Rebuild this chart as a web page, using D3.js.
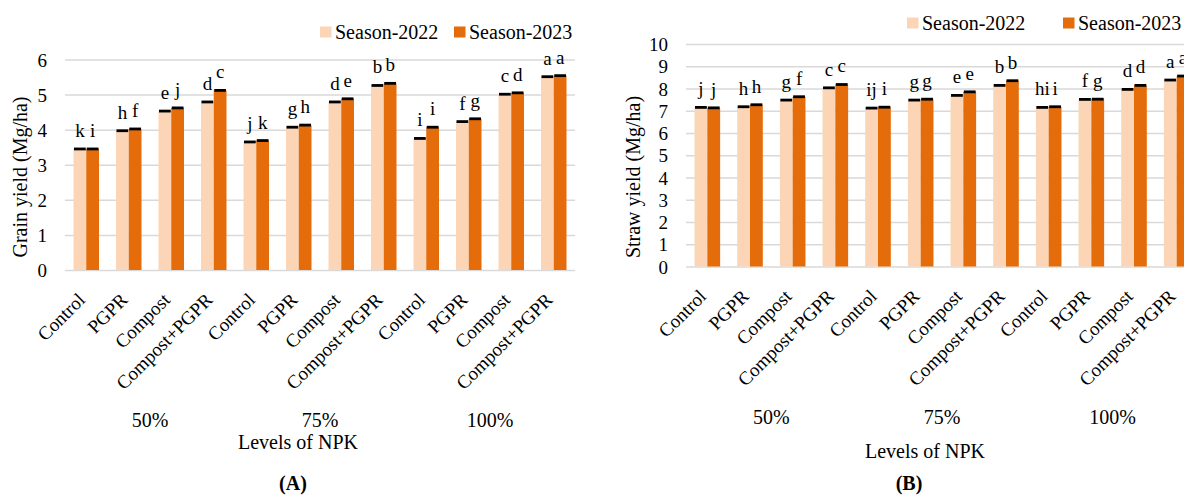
<!DOCTYPE html>
<html>
<head>
<meta charset="utf-8">
<script src="https://cdn.jsdelivr.net/npm/d3@7"></script>
<style>
  html, body { margin: 0; padding: 0; background: #fff; }
  svg { display: block; }
</style>
</head>
<body>
<svg id="chart" width="1184" height="495"></svg>
<script>
// Treatments repeated within each NPK level
const treatments = ["Control", "PGPR", "Compost", "Compost+PGPR"];
const npkLevels = ["50%", "75%", "100%"];
const seasons = ["Season-2022", "Season-2023"];
const seasonColors = ["#FBD5B5", "#E46C0A"];

// Grain yield (Mg/ha)
const grain2022 = [3.45, 3.97, 4.53, 4.79, 3.65, 4.07, 4.79, 5.26, 3.75, 4.23, 5.01, 5.51];
const grain2023 = [3.45, 4.02, 4.62, 5.12, 3.69, 4.13, 4.88, 5.32, 4.07, 4.31, 5.05, 5.54];
const grainLetters2022 = ["k", "h", "e", "d", "j", "g", "d", "b", "i", "f", "c", "a"];
const grainLetters2023 = ["i", "f", "j", "c", "k", "h", "e", "b", "i", "g", "d", "a"];
const grainTicks = [0, 1, 2, 3, 4, 5, 6];

// Straw yield (Mg/ha)
const straw2022 = [7.15, 7.18, 7.48, 8.03, 7.12, 7.48, 7.69, 8.14, 7.15, 7.51, 7.96, 8.38];
const straw2023 = [7.13, 7.27, 7.63, 8.18, 7.16, 7.52, 7.85, 8.35, 7.18, 7.52, 8.14, 8.56];
const strawLetters2022 = ["j", "h", "g", "c", "ij", "g", "e", "b", "hi", "f", "d", "a"];
const strawLetters2023 = ["j", "h", "f", "c", "i", "g", "e", "b", "i", "g", "d", "a"];
const strawTicks = [0, 1, 2, 3, 4, 5, 6, 7, 8, 9, 10];

const FONT = "'Liberation Serif', Tinos, 'DejaVu Serif', serif";

const svg = d3.select("#chart");

function label(sel, size) {
  return sel.attr("font-family", FONT).attr("font-size", size).attr("fill", "#000");
}

function drawPanel(cfg) {
  const g = svg.append("g");
  const n = npkLevels.length * treatments.length;
  const idx = d3.range(n);

  const x = d3.scaleBand().domain(idx).range([cfg.x0, cfg.x1])
    .paddingInner(0.4).paddingOuter(0.2);
  const xs = d3.scaleBand().domain([0, 1]).range([0, x.bandwidth()]);
  const y = d3.scaleLinear().domain([0, cfg.yMax]).range([cfg.y0, cfg.yTop]);

  // horizontal gridlines with value labels
  const yAxis = d3.axisLeft(y).tickValues(cfg.ticks).tickFormat(d3.format("d"))
    .tickSize(-(cfg.x1 - cfg.x0));
  const ya = g.append("g").attr("transform", `translate(${cfg.x0},0)`).call(yAxis);
  ya.attr("font-family", FONT).attr("font-size", 19);
  ya.select(".domain").remove();
  ya.selectAll(".tick line").attr("stroke", "#d9d9d9").attr("stroke-width", 1.5);
  ya.selectAll(".tick text")
    .attr("x", cfg.tickRight - cfg.x0)
    .attr("dy", "0.35em")
    .attr("fill", "#000");

  const series = [cfg.v2022, cfg.v2023];
  const letters = [cfg.l2022, cfg.l2023];

  series.forEach((vals, s) => {
    // bars
    g.selectAll(null).data(idx).enter().append("rect")
      .attr("x", i => x(i) + xs(s))
      .attr("y", i => y(vals[i]))
      .attr("width", xs.bandwidth())
      .attr("height", i => y(0) - y(vals[i]))
      .attr("fill", seasonColors[s]);
    // error caps
    g.selectAll(null).data(idx).enter().append("line")
      .attr("x1", i => x(i) + xs(s) + 0.5)
      .attr("x2", i => x(i) + xs(s) + xs.bandwidth() - 0.5)
      .attr("y1", i => y(vals[i]))
      .attr("y2", i => y(vals[i]))
      .attr("stroke", "#000").attr("stroke-width", 2.8);
    // significance letters
    label(g.selectAll(null).data(idx).enter().append("text"), 19)
      .attr("x", i => x(i) + xs(s) + xs.bandwidth() / 2)
      .attr("y", i => y(vals[i]) - 12)
      .attr("text-anchor", "middle")
      .text(i => letters[s][i]);
  });

  // rotated treatment labels
  label(g.selectAll(null).data(idx).enter().append("text"), 19)
    .attr("text-anchor", "end")
    .attr("transform", i => `translate(${x(i) + x.bandwidth() / 2},${cfg.y0 + 31}) rotate(-45)`)
    .text(i => treatments[i % treatments.length]);

  // NPK level labels
  npkLevels.forEach((lv, k) => {
    const first = x(k * 4), last = x(k * 4 + 3) + x.bandwidth();
    label(g.append("text"), 20)
      .attr("x", (first + last) / 2)
      .attr("y", cfg.levelY)
      .attr("text-anchor", "middle")
      .text(lv);
  });

  // axis titles
  label(g.append("text"), 20)
    .attr("x", cfg.xTitleX).attr("y", cfg.xTitleY)
    .attr("text-anchor", "middle")
    .text("Levels of NPK");
  label(g.append("text"), 20)
    .attr("transform", `translate(${cfg.yTitleX},${cfg.yTitleY}) rotate(-90)`)
    .attr("text-anchor", "middle")
    .text(cfg.yTitle);

  // panel tag
  label(g.append("text"), 20)
    .attr("x", cfg.tagX).attr("y", 490)
    .attr("text-anchor", "middle")
    .attr("font-weight", "bold")
    .text(cfg.tag);

  // legend
  const lg = g.append("g");
  seasons.forEach((name, s) => {
    const lx = cfg.legendX[s];
    lg.append("rect")
      .attr("x", lx).attr("y", cfg.legendY - 5.5)
      .attr("width", 11.5).attr("height", 11)
      .attr("fill", seasonColors[s]);
    label(lg.append("text"), 20)
      .attr("x", lx + 15).attr("y", cfg.legendY)
      .attr("dy", "0.33em")
      .text(name);
  });
}

drawPanel({
  x0: 65, x1: 575, y0: 270, yTop: 59.5, yMax: 6, ticks: grainTicks, tickRight: 47,
  v2022: grain2022, v2023: grain2023, l2022: grainLetters2022, l2023: grainLetters2023,
  levelY: 427, xTitleX: 298, xTitleY: 449, yTitleX: 27, yTitleY: 177,
  yTitle: "Grain yield (Mg/ha)", tag: "(A)", tagX: 293,
  legendX: [320, 454], legendY: 32
});

drawPanel({
  x0: 686, x1: 1198, y0: 266.5, yTop: 44, yMax: 10, ticks: strawTicks, tickRight: 668,
  v2022: straw2022, v2023: straw2023, l2022: strawLetters2022, l2023: strawLetters2023,
  levelY: 424, xTitleX: 925, xTitleY: 458, yTitleX: 640, yTitleY: 177,
  yTitle: "Straw yield (Mg/ha)", tag: "(B)", tagX: 909,
  legendX: [907, 1063], legendY: 23
});
</script>
</body>
</html>
